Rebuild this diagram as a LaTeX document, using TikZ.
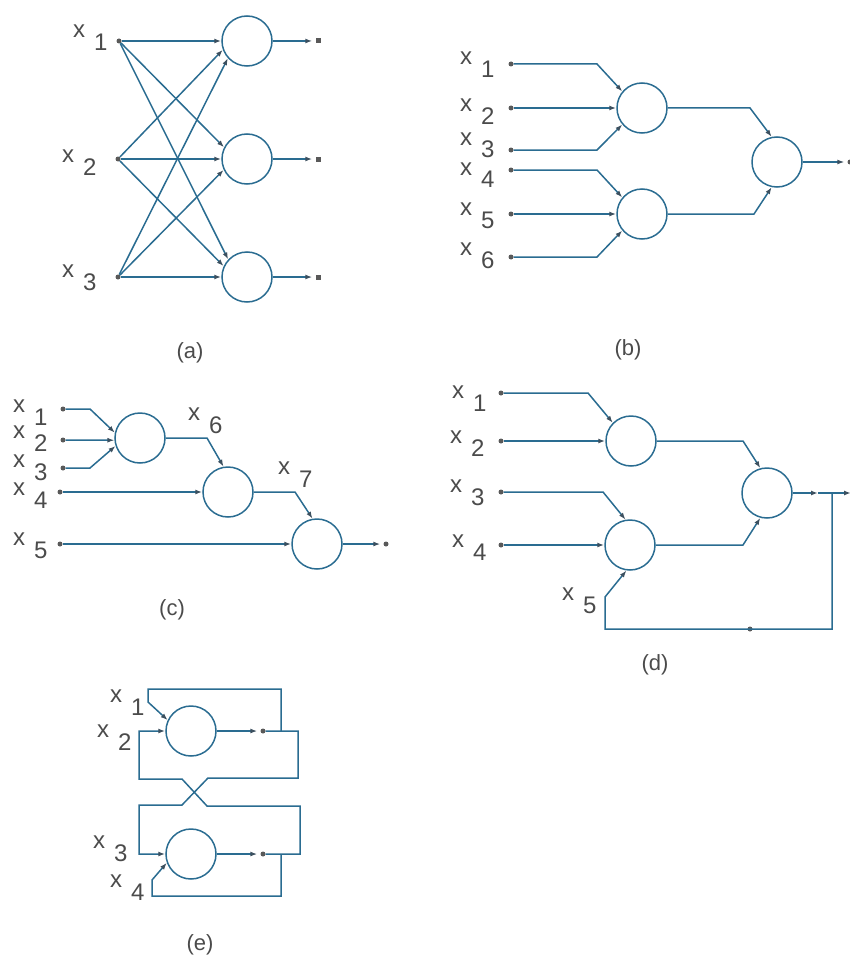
\documentclass[tikz,border=0pt]{standalone}
\usepackage{fontspec}
\setmainfont{Liberation Sans}
\usetikzlibrary{arrows.meta}
\definecolor{wirec}{RGB}{42,108,145}
\definecolor{txtc}{RGB}{75,75,75}
\definecolor{tipc}{RGB}{60,80,95}
\newcommand{\xs}[1]{x\hspace{9pt}\raisebox{-13pt}{#1}}
\begin{document}
\begin{tikzpicture}[x=1pt,y=-1pt,
  neuron/.style={circle,draw=wirec,line width=1.5pt,minimum size=50pt,inner sep=0pt},
  wire/.style={draw=wirec,line width=1.5pt},
  arr/.style={wire,-{Latex[length=7pt,width=5pt,color=tipc]}},
  dot/.style={circle,fill=black!65,minimum size=5pt,inner sep=0pt},
  sqdot/.style={rectangle,fill=black!65,minimum size=5pt,inner sep=0pt},
  lab/.style={anchor=base west,inner sep=0pt,text=txtc,font=\fontsize{24}{24}\selectfont},
  capt/.style={text=txtc,font=\fontsize{22}{22}\selectfont}]
\useasboundingbox (0,0) rectangle (850,963);

% ---------------- (a)
\node[dot] (ia1) at (119,41) {};
\node[dot] (ia2) at (118,159) {};
\node[dot] (ia3) at (118,277) {};
\node[neuron] (na1) at (247,41) {};
\node[neuron] (na2) at (247,159) {};
\node[neuron] (na3) at (247,277) {};
\node[sqdot] (oa1) at (318,41) {};
\node[sqdot] (oa2) at (318,159) {};
\node[sqdot] (oa3) at (318,277) {};
\draw[arr] (ia1) -- (na1.west);
\draw[arr] (ia1) -- (na2.153);
\draw[arr] (ia1) -- (na3.137);
\draw[arr] (ia2) -- (na1.200);
\draw[arr] (ia2) -- (na2.west);
\draw[arr] (ia2) -- (na3.155);
\draw[arr] (ia3) -- (na1.222);
\draw[arr] (ia3) -- (na2.205);
\draw[arr] (ia3) -- (na3.west);
\draw[arr,shorten >=3pt] (na1) -- (oa1);
\draw[arr,shorten >=3pt] (na2) -- (oa2);
\draw[arr,shorten >=3pt] (na3) -- (oa3);
\node[lab] (la1) at (73,38) {\xs{1}};
\node[lab] (la2) at (62,162) {\xs{2}};
\node[lab] (la3) at (62,277) {\xs{3}};
\node[capt] (capa) at (190,353) {(a)};

% ---------------- (b)
\node[dot] (ib1) at (511,64) {};
\node[dot] (ib2) at (511,108) {};
\node[dot] (ib3) at (511,150) {};
\node[dot] (ib4) at (511,170) {};
\node[dot] (ib5) at (511,214) {};
\node[dot] (ib6) at (511,257) {};
\node[neuron] (nb1) at (642,108) {};
\node[neuron] (nb2) at (642,214) {};
\node[neuron] (nb3) at (777,162) {};
\node[dot] (ob) at (850,162) {};
\draw[arr] (ib1) -- (597,64) -- (nb1.140);
\draw[arr] (ib2) -- (nb1);
\draw[arr] (ib3) -- (597,150) -- (nb1.220);
\draw[arr] (ib4) -- (597,170) -- (nb2.140);
\draw[arr] (ib5) -- (nb2);
\draw[arr] (ib6) -- (597,257) -- (nb2.220);
\draw[arr] (nb1.east) -- (750,108) -- (nb3.102);
\draw[arr] (nb2.east) -- (754,214) -- (nb3.258);
\draw[arr,shorten >=3pt] (nb3) -- (ob);
\node[lab] (lb1) at (460,65) {\xs{1}};
\node[lab] (lb2) at (460,112) {\xs{2}};
\node[lab] (lb3) at (460,145) {\xs{3}};
\node[lab] (lb4) at (460,175) {\xs{4}};
\node[lab] (lb5) at (460,215) {\xs{5}};
\node[lab] (lb6) at (460,255) {\xs{6}};
\node[capt] (capb) at (628,350) {(b)};

% ---------------- (c)
\node[dot] (ic1) at (63,409) {};
\node[dot] (ic2) at (63,440) {};
\node[dot] (ic3) at (63,468) {};
\node[dot] (ic4) at (60,492) {};
\node[dot] (ic5) at (60,544) {};
\node[neuron] (nc1) at (140,438) {};
\node[neuron] (nc2) at (228,492) {};
\node[neuron] (nc3) at (317,544) {};
\node[dot] (oc) at (386,544) {};
\draw[arr] (ic1) -- (90,409) -- (nc1.168);
\draw[arr] (ic2) -- (nc1.185);
\draw[arr] (ic3) -- (90,468) -- (nc1.198);
\draw[arr] (nc1.east) -- (207,438) -- (nc2.100);
\draw[arr] (ic4) -- (nc2.west);
\draw[arr] (nc2.east) -- (295,492) -- (nc3.100);
\draw[arr] (ic5) -- (nc3.west);
\draw[arr,shorten >=3pt] (nc3) -- (oc);
\node[lab] (lc1) at (13,412) {\xs{1}};
\node[lab] (lc2) at (13,438) {\xs{2}};
\node[lab] (lc3) at (13,467) {\xs{3}};
\node[lab] (lc4) at (13,495) {\xs{4}};
\node[lab] (lc5) at (13,545) {\xs{5}};
\node[lab] (lc6) at (188,420) {\xs{6}};
\node[lab] (lc7) at (278,474) {\xs{7}};
\node[capt] (capc) at (172,610) {(c)};

% ---------------- (d)
\node[dot] (id1) at (501,393) {};
\node[dot] (id2) at (501,441) {};
\node[dot] (id3) at (501,492) {};
\node[dot] (id4) at (501,545) {};
\node[neuron] (nd1) at (631,441) {};
\node[neuron] (nd2) at (630,545) {};
\node[neuron] (nd3) at (767,493) {};
\coordinate (md) at (818,493);
\coordinate (jd) at (832,493);
\coordinate (od) at (851,493);
\coordinate (x5d) at (605,597);
\node[dot] (fd) at (750,629) {};
\draw[arr] (id1) -- (588,393) -- (nd1.135);
\draw[arr] (id2) -- (nd1);
\draw[arr] (id3) -- (603,492) -- (nd2.100);
\draw[arr] (id4) -- (nd2);
\draw[arr] (nd1.east) -- (743,441) -- (nd3.105);
\draw[arr] (nd2.east) -- (743,545) -- (nd3.255);
\draw[arr] (nd3) -- (md);
\draw[arr] (md) -- (od);
\draw[arr] (jd) -- (832,629) -- (fd.center) -- (605,629) -- (x5d) -- (nd2.262);
\node[lab] (ld1) at (452,398) {\xs{1}};
\node[lab] (ld2) at (450,443) {\xs{2}};
\node[lab] (ld3) at (450,492) {\xs{3}};
\node[lab] (ld4) at (452,547) {\xs{4}};
\node[lab] (ld5) at (562,600) {\xs{5}};
\node[capt] (capd) at (655,665) {(d)};

% ---------------- (e)
\node[neuron] (ne1) at (191,731) {};
\node[neuron] (ne2) at (191,854) {};
\node[dot] (oe1) at (263,731) {};
\node[dot] (oe2) at (263,854) {};
\coordinate (je1) at (281,731);
\coordinate (je2) at (281,854);
\draw[arr,shorten >=3pt] (ne1) -- (oe1);
\draw[arr,shorten >=3pt] (ne2) -- (oe2);
\draw[arr] (oe1) -- (298,731) -- (298,778) -- (208,778) -- (182,805) -- (139,805) -- (139,854) -- (ne2.west);
\draw[arr] (oe2) -- (300,854) -- (300,806) -- (207,806) -- (182,779) -- (139,779) -- (139,731) -- (ne1.west);
\draw[arr] (je1) -- (281,689) -- (148,689) -- (148,702) -- (ne1.155);
\draw[arr] (je2) -- (281,896) -- (152,896) -- (152,880) -- (ne2.200);
\node[lab] (le1) at (110,702) {\xs{1}};
\node[lab] (le2) at (97,737) {\xs{2}};
\node[lab] (le3) at (93,848) {\xs{3}};
\node[lab] (le4) at (110,887) {\xs{4}};
\node[capt] (cape) at (200,945) {(e)};
\end{tikzpicture}
\end{document}
